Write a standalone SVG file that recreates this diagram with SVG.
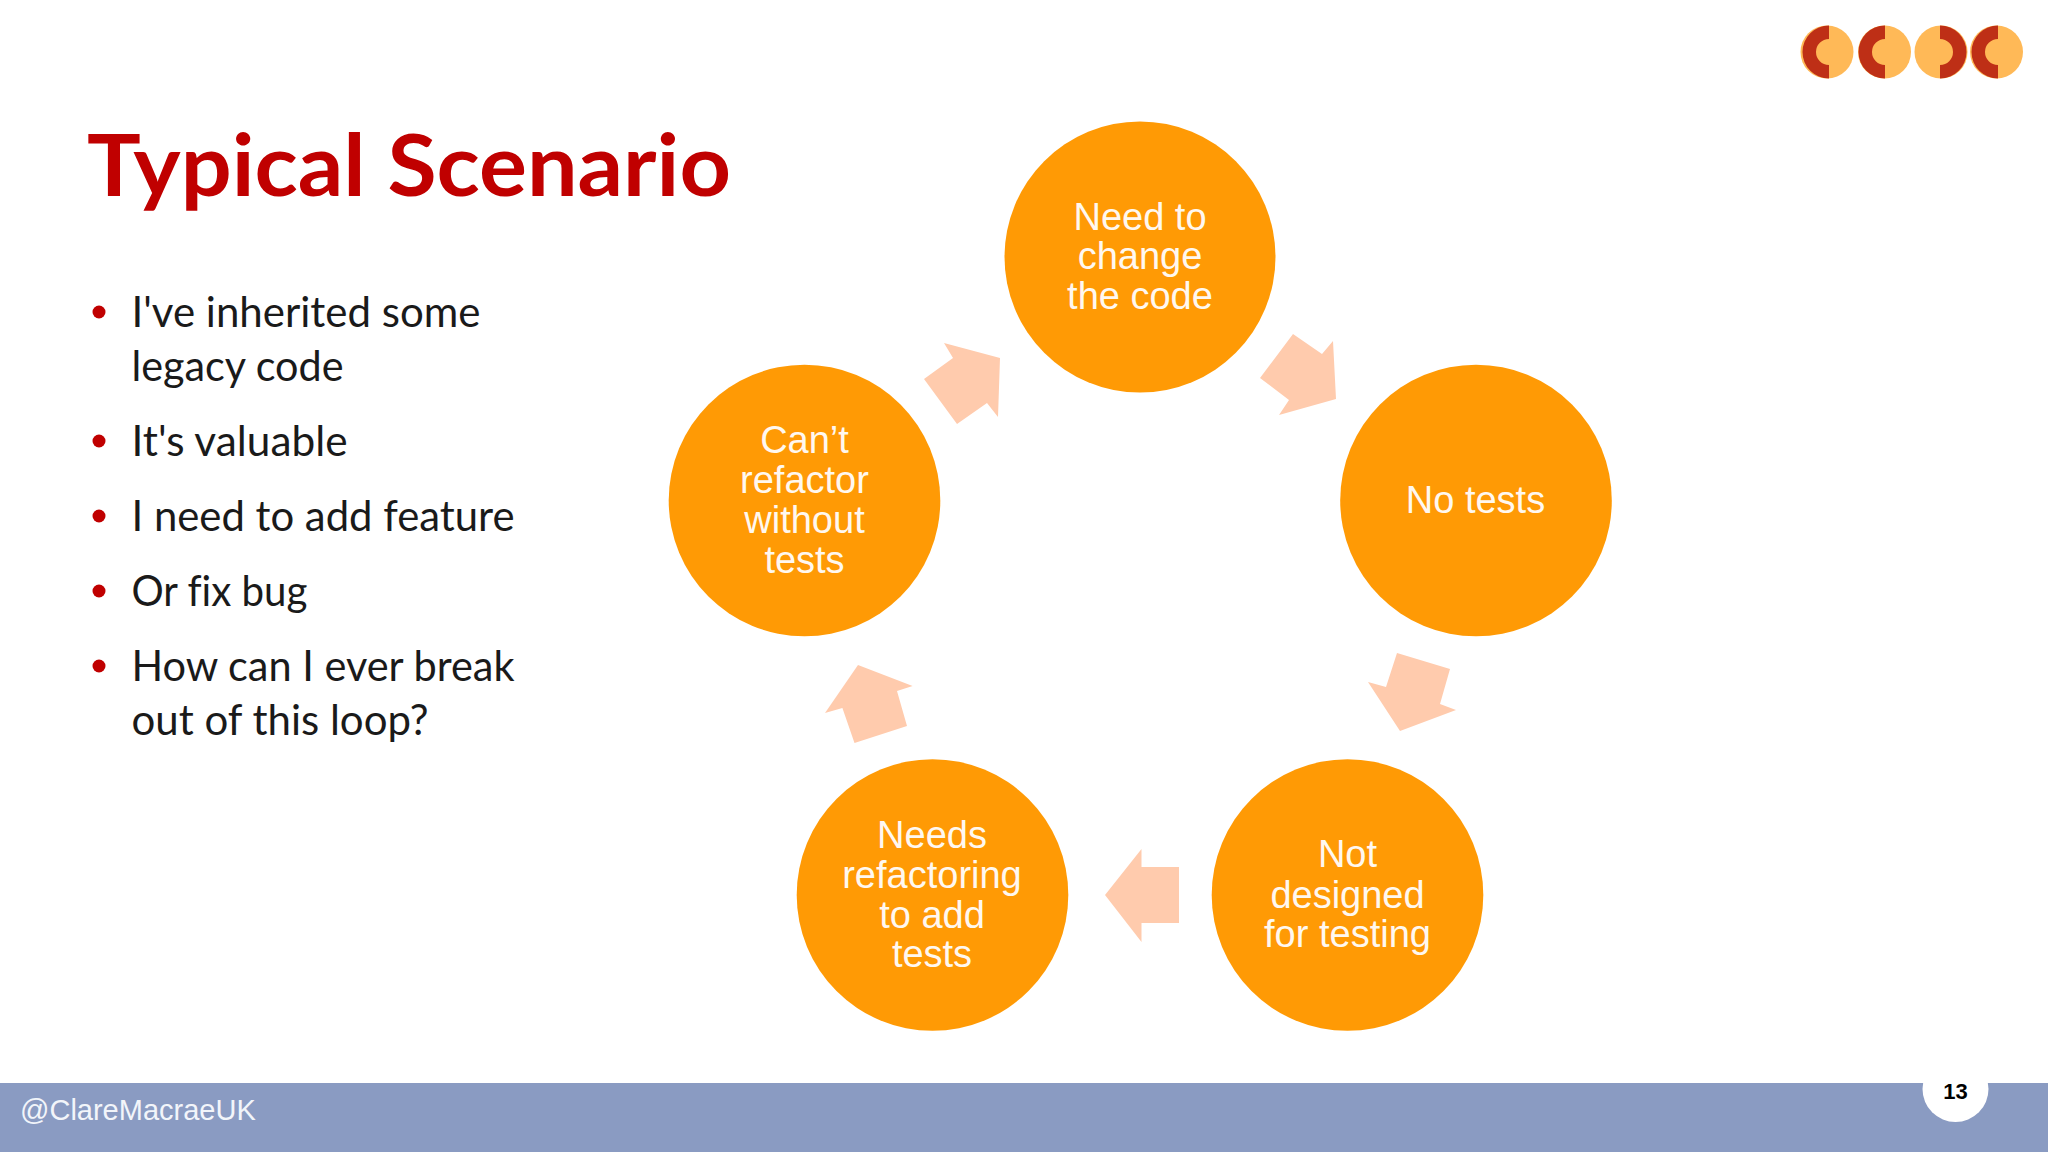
<svg xmlns="http://www.w3.org/2000/svg" width="2048" height="1152" viewBox="0 0 2048 1152">
<style>
.c{fill:#FF9A05}
.ct{font-family:"Liberation Sans",Arial,sans-serif;font-size:38px;fill:#FFF8F0;text-anchor:middle}
.ar{fill:#FFCBAD}
.b{font-family:Lato,"Carlito",sans-serif;font-size:41.6px;fill:#1A1A1A;font-variant-ligatures:none}
.d{fill:#C00000}
.dk{fill:#BE2F16}
.lt{fill:#FFB957}
</style>
<rect width="2048" height="1152" fill="#FFFFFF"/>
<g id="logo">
<circle class="lt" cx="1827" cy="52" r="26.5"/><path class="dk" d="M1829 25.500A26.500 26.500 0 1 0 1829 78.500V65A13 13 0 0 1 1829 39Z"/>
<circle class="lt" cx="1884.500" cy="52" r="26.5"/><path class="dk" d="M1885 25.500A26.500 26.500 0 1 0 1885 78.500V65A13 13 0 0 1 1885 39Z"/>
<circle class="lt" cx="1941" cy="52" r="26.5"/><path class="dk" d="M1940 25.500A26.500 26.500 0 1 1 1940 78.500V65A13 13 0 0 0 1940 39Z"/>
<circle class="lt" cx="1996.500" cy="52" r="26.5"/><path class="dk" d="M1998 25.500A26.500 26.500 0 1 0 1998 78.500V65A13 13 0 0 1 1998 39Z"/>
</g>
<text id="title" x="87" y="196" font-family="Lato,Carlito,sans-serif" font-weight="700" font-size="86" fill="#C00000" textLength="644" lengthAdjust="spacingAndGlyphs">Typical Scenario</text>
<g id="bullets">
<circle class="d" cx="99" cy="312" r="6.500"/><text class="b" x="131.500" y="327" textLength="349" lengthAdjust="spacingAndGlyphs">I've inherited some</text><text class="b" x="131.500" y="380.500" textLength="212" lengthAdjust="spacingAndGlyphs">legacy code</text>
<circle class="d" cx="99" cy="441" r="6.500"/><text class="b" x="131.500" y="456" textLength="216" lengthAdjust="spacingAndGlyphs">It's valuable</text>
<circle class="d" cx="99" cy="516" r="6.500"/><text class="b" x="131.500" y="531" textLength="383" lengthAdjust="spacingAndGlyphs">I need to add feature</text>
<circle class="d" cx="99" cy="591" r="6.500"/><text class="b" x="131.500" y="606" textLength="176" lengthAdjust="spacingAndGlyphs">Or fix bug</text>
<circle class="d" cx="99" cy="666" r="6.500"/><text class="b" x="131.500" y="681" textLength="383" lengthAdjust="spacingAndGlyphs">How can I ever break</text><text class="b" x="131.500" y="735" textLength="297" lengthAdjust="spacingAndGlyphs">out of this loop?</text>
</g>
<g id="connectors">
<polygon class="ar" points="1293,334 1322,354 1333,341 1336,399 1279,415 1289,400 1260,378"/>
<polygon class="ar" points="1397,653 1450,669 1440,704 1456,710 1400,731 1368,682 1386,687"/>
<polygon class="ar" points="1105,895 1141.500,849 1141.500,867 1179,867 1179,923 1141.500,923 1141.500,942"/>
<polygon class="ar" points="858,665 912.600,686 897,691 907,726 854.500,743 842.400,708 825,713"/>
<polygon class="ar" points="1000,358 998,417 987,403 957,424 924,379 953,358 944,343"/>
</g>
<g id="n1"><circle class="c" cx="1140" cy="257" r="135.500"/><text class="ct" x="1140" y="229.500">Need to</text><text class="ct" x="1140" y="269">change</text><text class="ct" x="1140" y="309">the code</text></g>
<g id="n2"><circle class="c" cx="1476" cy="500.500" r="135.800"/><text class="ct" x="1475.500" y="513">No tests</text></g>
<g id="n3"><circle class="c" cx="1347.500" cy="895" r="135.800"/><text class="ct" x="1347.500" y="867">Not</text><text class="ct" x="1347.500" y="908">designed</text><text class="ct" x="1347.500" y="947">for testing</text></g>
<g id="n4"><circle class="c" cx="932.500" cy="895" r="135.800"/><text class="ct" x="932" y="848">Needs</text><text class="ct" x="932" y="888">refactoring</text><text class="ct" x="932" y="928">to add</text><text class="ct" x="932" y="967">tests</text></g>
<g id="n5"><circle class="c" cx="804.500" cy="500.500" r="135.800"/><text class="ct" x="804.500" y="453">Can’t</text><text class="ct" x="804.500" y="493">refactor</text><text class="ct" x="804.500" y="533">without</text><text class="ct" x="804.500" y="573">tests</text></g>
<g id="footer">
<rect x="0" y="1083" width="2048" height="69" fill="#8A9BC2"/>
<text x="20" y="1120" font-family="Liberation Sans,Arial,sans-serif" font-size="29" fill="#F2F5FA">@ClareMacraeUK</text>
<circle cx="1955.500" cy="1089" r="33" fill="#FFFFFF"/>
<text x="1955.500" y="1099" font-family="Liberation Sans,Arial,sans-serif" font-size="22" font-weight="700" fill="#000000" text-anchor="middle">13</text>
</g>
</svg>
